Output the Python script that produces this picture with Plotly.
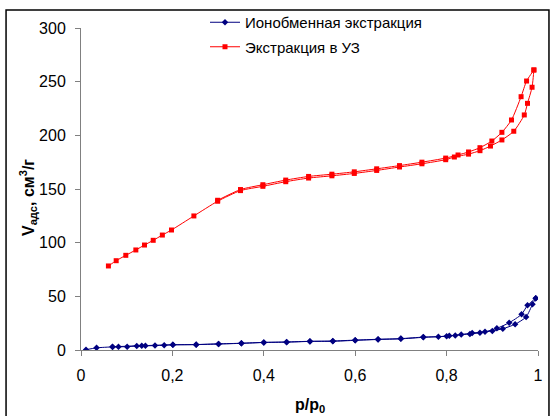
import plotly.graph_objects as go

# Ion-exchange extraction (blue)
p_ion_ads = [0.011, 0.034, 0.069, 0.082, 0.101, 0.122, 0.141, 0.162, 0.182, 0.201, 0.252, 0.301, 0.351,
             0.400, 0.450, 0.501, 0.551, 0.600, 0.650, 0.700, 0.749, 0.800, 0.819, 0.851, 0.873, 0.900,
             0.923, 0.950, 0.974, 0.988, 0.995]
v_ion_ads = [0.3, 2.0, 2.9, 3.0, 3.1, 3.8, 3.9, 4.1, 4.4, 4.8, 5.0, 5.6, 6.2,
             7.0, 7.3, 8.0, 8.1, 9.0, 9.8, 10.4, 11.8, 12.8, 13.6, 15.0, 16.0, 17.8,
             19.8, 24.0, 30.8, 42.6, 48.2]
p_ion_des = [0.995, 0.977, 0.964, 0.937, 0.910, 0.884, 0.856, 0.832, 0.806, 0.782, 0.749, 0.700,
             0.650, 0.600, 0.551, 0.501, 0.450, 0.400, 0.351, 0.301, 0.252, 0.201, 0.133, 0.069]
v_ion_des = [48.2, 41.6, 33.2, 25.4, 20.2, 17.0, 15.8, 14.4, 13.2, 12.4, 12.0, 10.6,
             10.0, 9.2, 8.4, 8.1, 7.5, 7.1, 6.3, 5.7, 5.1, 4.9, 4.0, 3.0]

# Ultrasound extraction (red)
p_uz_ads = [0.060, 0.077, 0.098, 0.120, 0.139, 0.158, 0.178, 0.198, 0.247, 0.299, 0.349, 0.398, 0.448,
            0.498, 0.549, 0.598, 0.647, 0.697, 0.746, 0.798, 0.817, 0.848, 0.873, 0.896, 0.921, 0.947,
            0.970, 0.977, 0.987, 0.991]
v_uz_ads = [78.3, 83.2, 88.2, 93.2, 97.8, 102.2, 107.1, 111.8, 124.9, 138.6, 148.5, 152.5, 156.8,
            160.2, 162.3, 164.5, 167.3, 170.5, 173.5, 177.3, 179.8, 182.5, 185.7, 190.0, 195.7, 203.8,
            219.0, 229.8, 244.8, 260.9]
p_uz_des = [0.991, 0.975, 0.963, 0.942, 0.921, 0.899, 0.873, 0.848, 0.825, 0.798, 0.746, 0.697,
            0.647, 0.598, 0.549, 0.498, 0.448, 0.398, 0.349, 0.299]
v_uz_des = [260.9, 250.6, 236.0, 214.3, 202.8, 194.7, 188.5, 184.5, 181.7, 178.8, 175.0, 171.8,
            168.8, 166.0, 163.8, 161.7, 158.3, 154.0, 149.5, 139.5]

x_ticks = [0, 0.2, 0.4, 0.6, 0.8, 1]
y_ticks = [0, 50, 100, 150, 200, 250, 300]

BLUE = "#000080"
RED = "#FF0000"

fig = go.Figure()
fig.add_trace(go.Scatter(x=p_ion_ads + p_ion_des, y=v_ion_ads + v_ion_des, mode="lines+markers",
                         name="Ионобменная экстракция", legendgroup="a",
                         line=dict(color=BLUE, width=1, shape="spline", smoothing=0.6),
                         marker=dict(symbol="diamond", size=5, color=BLUE)))
fig.add_trace(go.Scatter(x=p_uz_ads + p_uz_des, y=v_uz_ads + v_uz_des, mode="lines+markers",
                         name="Экстракция в УЗ", legendgroup="b",
                         line=dict(color=RED, width=1, shape="spline", smoothing=0.6),
                         marker=dict(symbol="square", size=5, color=RED)))

fig.add_shape(type="rect", xref="paper", yref="paper", x0=-0.164, x1=1.024, y0=-0.4, y1=1.056,
              line=dict(color="black", width=1.5), fillcolor="rgba(0,0,0,0)", layer="below")

fig.add_annotation(text="<b>V<sub>адс</sub>, см<sup>3</sup>/г</b>", xref="paper", yref="paper",
                   x=-0.116, y=0.475, xanchor="center", yanchor="middle", textangle=-90,
                   showarrow=False, font=dict(size=16))
fig.add_annotation(text="<b>p/p<sub>0</sub></b>", xref="paper", yref="paper",
                   x=0.5, y=-0.171, xanchor="center", yanchor="middle",
                   showarrow=False, font=dict(size=16))

fig.update_layout(
    width=551, height=416,
    margin=dict(l=81, r=13, t=28, b=66, autoexpand=False),
    paper_bgcolor="white", plot_bgcolor="white",
    separators=", ",
    font=dict(family="Liberation Sans, Arial", size=16, color="black"),
    showlegend=True,
    legend=dict(x=205 / 551, y=1 - 6 / 416, xref="container", yref="container",
                xanchor="left", yanchor="top", bgcolor="rgba(0,0,0,0)",
                font=dict(size=15), traceorder="grouped", tracegroupgap=2, itemwidth=30),
    xaxis=dict(range=[0, 1], tickvals=x_ticks, ticktext=[str(v).replace(".", ",") for v in x_ticks],
               showgrid=False, zeroline=False, showline=True, linecolor="#808080", linewidth=1,
               ticks="outside", ticklen=5, tickcolor="#808080", ticklabelstandoff=6),
    yaxis=dict(range=[0, 300], tickvals=y_ticks, showgrid=False, zeroline=False, showline=True,
               linecolor="#808080", linewidth=1, ticks="outside", ticklen=5, tickcolor="#808080",
               ticklabelstandoff=6),
)

fig.write_html("out.html")
